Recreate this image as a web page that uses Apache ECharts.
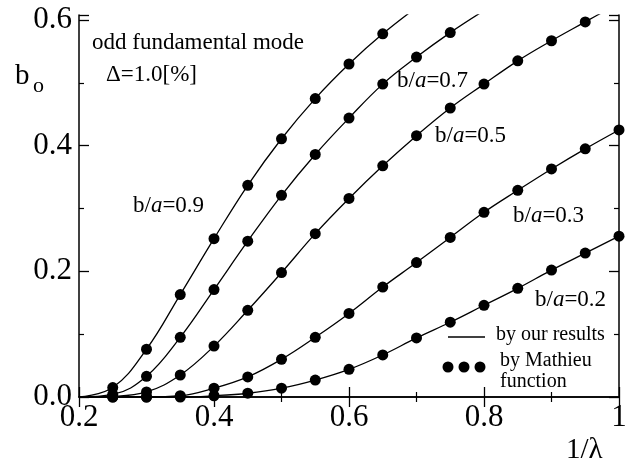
<!DOCTYPE html>
<html>
<head>
<meta charset="utf-8">
<script src="https://cdn.jsdelivr.net/npm/echarts@6/dist/echarts.min.js"></script>
<style>
  html, body { margin: 0; padding: 0; background: #fff; }
  #chart { width: 630px; height: 468px; }
</style>
</head>
<body>
<div id="chart"></div>
<script>
  // 1/lambda positions of the Mathieu points
  var xs = [0.25, 0.3, 0.35, 0.4, 0.45, 0.5, 0.55, 0.6, 0.65, 0.7, 0.75, 0.8, 0.85, 0.9, 0.95, 1.0];

  // b_o, one array per b/a
  var ba09 = [0.015, 0.076, 0.163, 0.252, 0.337, 0.411, 0.475, 0.53, 0.578];
  var ba07 = [0.004, 0.033, 0.095, 0.171, 0.248, 0.321, 0.386, 0.444, 0.498, 0.541, 0.58];
  var ba05 = [0.001, 0.008, 0.035, 0.081, 0.138, 0.198, 0.26, 0.316, 0.368, 0.416, 0.46, 0.498, 0.535, 0.567, 0.597];
  var ba03 = [0, 0, 0.002, 0.014, 0.032, 0.06, 0.095, 0.133, 0.175, 0.214, 0.254, 0.294, 0.329, 0.363, 0.395, 0.425];
  var ba02 = [0, 0, 0, 0.002, 0.006, 0.014, 0.027, 0.044, 0.067, 0.094, 0.119, 0.146, 0.173, 0.202, 0.229, 0.256];

  // where the solid curves start and where they leave the top of the frame
  var lineStart = [0.2, 0];
  var lineEnd09 = [0.7, 0.62];
  var lineEnd07 = [0.8, 0.615];
  var lineEnd05 = [1.0, 0.627];

  var xTicks = [0.2, 0.4, 0.6, 0.8, 1];
  var yTicks = [0.0, 0.2, 0.4, 0.6];

  function pts(vals) {
    return vals.map(function (v, i) { return [xs[i], v]; });
  }
  function curve(vals, end) {
    var d = [lineStart].concat(pts(vals));
    if (end) d.push(end);
    return d;
  }

  var serif = 'Liberation Serif';
  var chart = echarts.init(document.getElementById('chart'));

  function lineSeries(data) {
    return {
      type: 'line', data: data, smooth: 0.4, showSymbol: false, silent: true,
      lineStyle: { color: '#000', width: 1.3 }, clip: true, z: 2
    };
  }
  function dotSeries(data) {
    return {
      type: 'scatter', data: data, symbol: 'circle', symbolSize: 11,
      itemStyle: { color: '#000', opacity: 1 }, clip: false, z: 3
    };
  }

  var axisCommon = {
    axisLine: { show: true, lineStyle: { color: '#000', width: 1.5 } },
    axisTick: { inside: true, length: 10, lineStyle: { color: '#000', width: 1.3 } },
    minorTick: { show: true, splitNumber: 2, length: 5, lineStyle: { color: '#000', width: 1.2 } },
    splitLine: { show: false }
  };

  function labRich(val) {
    return 'b/{i|a}=' + val;
  }
  var richA = { i: { fontStyle: 'italic', fontFamily: serif, fontSize: 23, fill: '#000' } };

  chart.setOption({
    animation: false,
    backgroundColor: '#fff',
    grid: { left: 79, right: 11, top: 15, bottom: 71 },
    xAxis: [
      Object.assign({
        type: 'value', min: 0.2, max: 1.0, interval: 0.2, position: 'bottom',
        axisLabel: {
          margin: 5, color: '#000', fontFamily: serif, fontSize: 31,
          formatter: function (v) {
            for (var k = 0; k < xTicks.length; k++) if (Math.abs(v - xTicks[k]) < 1e-6) return String(xTicks[k]);
            return '';
          }
        }
      }, axisCommon),
      Object.assign({
        type: 'value', min: 0.2, max: 1.0, interval: 0.2, position: 'top',
        axisLabel: { show: false }
      }, axisCommon)
    ],
    yAxis: [
      Object.assign({
        type: 'value', min: 0, max: 0.608, interval: 0.2, position: 'left',
        axisLabel: {
          margin: 7, color: '#000', fontFamily: serif, fontSize: 31,
          formatter: function (v) {
            for (var k = 0; k < yTicks.length; k++) if (Math.abs(v - yTicks[k]) < 1e-6) return yTicks[k].toFixed(1);
            return '';
          }
        }
      }, axisCommon),
      Object.assign({
        type: 'value', min: 0, max: 0.608, interval: 0.2, position: 'right',
        axisLabel: { show: false }
      }, axisCommon)
    ],
    series: [
      lineSeries(curve(ba09, lineEnd09)),
      lineSeries(curve(ba07, lineEnd07)),
      lineSeries(curve(ba05, lineEnd05)),
      lineSeries(curve(ba03)),
      lineSeries(curve(ba02)),
      dotSeries(pts(ba09)),
      dotSeries(pts(ba07)),
      dotSeries(pts(ba05)),
      dotSeries(pts(ba03)),
      dotSeries(pts(ba02))
    ],
    graphic: [
      { type: 'text', left: 92, top: 31, style: { text: 'odd fundamental mode', fontFamily: serif, fontSize: 23, fill: '#000' } },
      { type: 'text', left: 106, top: 63, style: { text: 'Δ=1.0[%]', fontFamily: serif, fontSize: 23, fill: '#000' } },
      { type: 'text', left: 15, top: 62, style: { text: 'b', fontFamily: serif, fontSize: 29, fill: '#000' } },
      { type: 'text', left: 33, top: 75, style: { text: 'o', fontFamily: serif, fontSize: 22, fill: '#000' } },
      { type: 'text', left: 566, top: 436, style: { text: '1/λ', fontFamily: serif, fontSize: 29, fill: '#000' } },

      { type: 'text', left: 133, top: 194, style: { text: labRich('0.9'), rich: richA, fontFamily: serif, fontSize: 23, fill: '#000' } },
      { type: 'text', left: 397, top: 69, style: { text: labRich('0.7'), rich: richA, fontFamily: serif, fontSize: 23, fill: '#000' } },
      { type: 'text', left: 435, top: 124, style: { text: labRich('0.5'), rich: richA, fontFamily: serif, fontSize: 23, fill: '#000' } },
      { type: 'text', left: 513, top: 204, style: { text: labRich('0.3'), rich: richA, fontFamily: serif, fontSize: 23, fill: '#000' } },
      { type: 'text', left: 535, top: 288, style: { text: labRich('0.2'), rich: richA, fontFamily: serif, fontSize: 23, fill: '#000' } },

      // legend
      { type: 'line', shape: { x1: 448, y1: 337, x2: 485, y2: 337 }, style: { stroke: '#000', lineWidth: 1.3 } },
      { type: 'text', left: 496, top: 325, style: { text: 'by our results', fontFamily: serif, fontSize: 20, fill: '#000' } },
      { type: 'circle', shape: { cx: 448, cy: 367, r: 5.5 }, style: { fill: '#000' } },
      { type: 'circle', shape: { cx: 464, cy: 367, r: 5.5 }, style: { fill: '#000' } },
      { type: 'circle', shape: { cx: 480, cy: 367, r: 5.5 }, style: { fill: '#000' } },
      { type: 'text', left: 500, top: 351, style: { text: 'by Mathieu', fontFamily: serif, fontSize: 20, fill: '#000' } },
      { type: 'text', left: 500, top: 372, style: { text: 'function', fontFamily: serif, fontSize: 20, fill: '#000' } }
    ]
  });
</script>
</body>
</html>
